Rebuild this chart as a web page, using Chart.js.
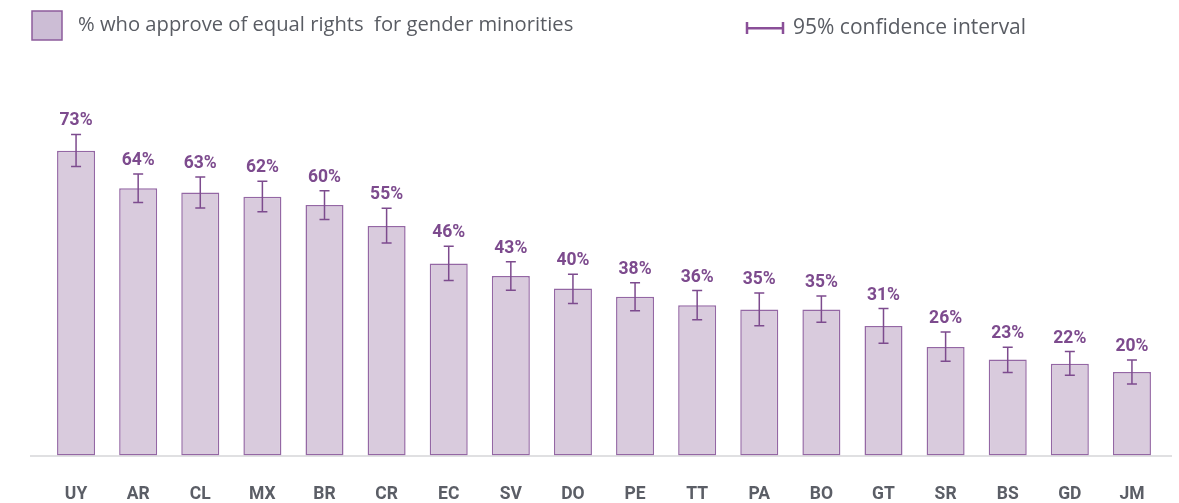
<!DOCTYPE html>
<html>
<head>
<meta charset="utf-8">
<script src="https://cdn.jsdelivr.net/npm/chart.js@4.4.1/dist/chart.umd.min.js"></script>
<style>
  html, body { margin: 0; padding: 0; background: #ffffff; }
  #wrap { position: relative; width: 1179px; height: 503px; }
  canvas { position: absolute; left: 0; top: 0; }
</style>
</head>
<body>
<div id="wrap"><canvas id="c" width="1179" height="503"></canvas></div>
<script>
// Country codes along the x axis
const countries = ['UY','AR','CL','MX','BR','CR','EC','SV','DO','PE','TT','PA','BO','GT','SR','BS','GD','JM'];
// Share approving of equal rights for gender minorities (%)
const approve = [73, 64, 63, 62, 60, 55, 46, 43, 40, 38, 36, 35, 35, 31, 26, 23, 22, 20];
// 95% confidence interval bounds (%)
const ciLow  = [69.2, 60.6, 59.3, 58.4, 56.5, 50.9, 41.9, 39.6, 36.4, 34.7, 32.5, 31.1, 31.9, 26.9, 22.6, 19.9, 19.2, 17.1];
const ciHigh = [76.9, 67.4, 66.7, 65.7, 63.4, 59.2, 50.1, 46.4, 43.4, 41.4, 39.5, 38.9, 38.2, 35.2, 29.6, 25.9, 24.9, 22.9];

const seriesLabel = '% who approve of equal rights  for gender minorities';
const ciLabel = '95% confidence interval';

const PURPLE = '#7d4b8e';
const BAR_FILL = '#d9cbdd';
const BAR_EDGE = '#9467a4';
const GREY_TEXT = '#5b5e66';

// Legend drawn at the top of the canvas
const legendPlugin = {
  id: 'topLegend',
  afterDraw(chart) {
    const ctx = chart.ctx;
    ctx.save();
    // series swatch
    ctx.fillStyle = '#ccbdd5';
    ctx.fillRect(32, 11, 30, 29);
    ctx.strokeStyle = '#8d5c9c';
    ctx.lineWidth = 1.5;
    ctx.strokeRect(32, 11, 30, 29);
    ctx.fillStyle = '#595c63';
    ctx.font = '20.2px "Open Sans"';
    ctx.textBaseline = 'middle';
    ctx.textAlign = 'left';
    ctx.fillText(seriesLabel, 78, 25);
    // confidence interval glyph
    ctx.strokeStyle = '#8a4f98';
    ctx.lineWidth = 2.5;
    ctx.beginPath();
    ctx.moveTo(747, 22); ctx.lineTo(747, 34);
    ctx.moveTo(783, 22); ctx.lineTo(783, 34);
    ctx.moveTo(747, 28.3); ctx.lineTo(783, 28.3);
    ctx.stroke();
    ctx.font = '21px "Open Sans"';
    ctx.fillText(ciLabel, 793, 28);
    ctx.restore();
  }
};

// Baseline, error bars and value labels
const marksPlugin = {
  id: 'marks',
  beforeDatasetsDraw(chart) {
    const ctx = chart.ctx;
    const y0 = chart.scales.y.getPixelForValue(0);
    ctx.save();
    ctx.strokeStyle = '#d6d6d8';
    ctx.lineWidth = 1.5;
    ctx.beginPath();
    ctx.moveTo(30, y0 + 0.5);
    ctx.lineTo(1172, y0 + 0.5);
    ctx.stroke();
    ctx.restore();
  },
  afterDatasetsDraw(chart) {
    const ctx = chart.ctx;
    const xs = chart.scales.x, ys = chart.scales.y;
    ctx.save();
    ctx.strokeStyle = PURPLE;
    ctx.lineWidth = 1.5;
    ctx.fillStyle = PURPLE;
    ctx.font = 'bold 17.5px Roboto';
    ctx.textAlign = 'center';
    ctx.textBaseline = 'alphabetic';
    approve.forEach((v, i) => {
      const x = xs.getPixelForValue(i);
      const yH = ys.getPixelForValue(ciHigh[i]);
      const yL = ys.getPixelForValue(ciLow[i]);
      ctx.beginPath();
      ctx.moveTo(x, yH); ctx.lineTo(x, yL);
      ctx.moveTo(x - 5, yH); ctx.lineTo(x + 5, yH);
      ctx.moveTo(x - 5, yL); ctx.lineTo(x + 5, yL);
      ctx.stroke();
      ctx.fillText(v + '%', x, yH - 9);
    });
    ctx.restore();
  }
};

new Chart(document.getElementById('c'), {
  type: 'bar',
  data: {
    labels: countries,
    datasets: [{
      label: seriesLabel,
      data: approve,
      backgroundColor: BAR_FILL,
      borderColor: BAR_EDGE,
      borderWidth: 1.5,
      borderSkipped: false,
      barPercentage: 0.612,
      categoryPercentage: 1.0
    }]
  },
  options: {
    responsive: false,
    animation: false,
    devicePixelRatio: 1,
    layout: { padding: { left: 45, right: 16, top: 121.5, bottom: 0 } },
    plugins: { legend: { display: false }, tooltip: { enabled: false } },
    scales: {
      y: {
        display: false,
        min: 0,
        max: 80,
        afterFit(scale) { scale.width = 0; }
      },
      x: {
        grid: { display: false, drawTicks: false },
        border: { display: false },
        ticks: {
          color: GREY_TEXT,
          font: { family: 'Roboto', weight: 'bold', size: 17.5 },
          padding: 29,
          autoSkip: false,
          maxRotation: 0
        },
        afterFit(scale) { scale.height = 47.5; }
      }
    }
  },
  plugins: [legendPlugin, marksPlugin]
});
</script>
</body>
</html>
